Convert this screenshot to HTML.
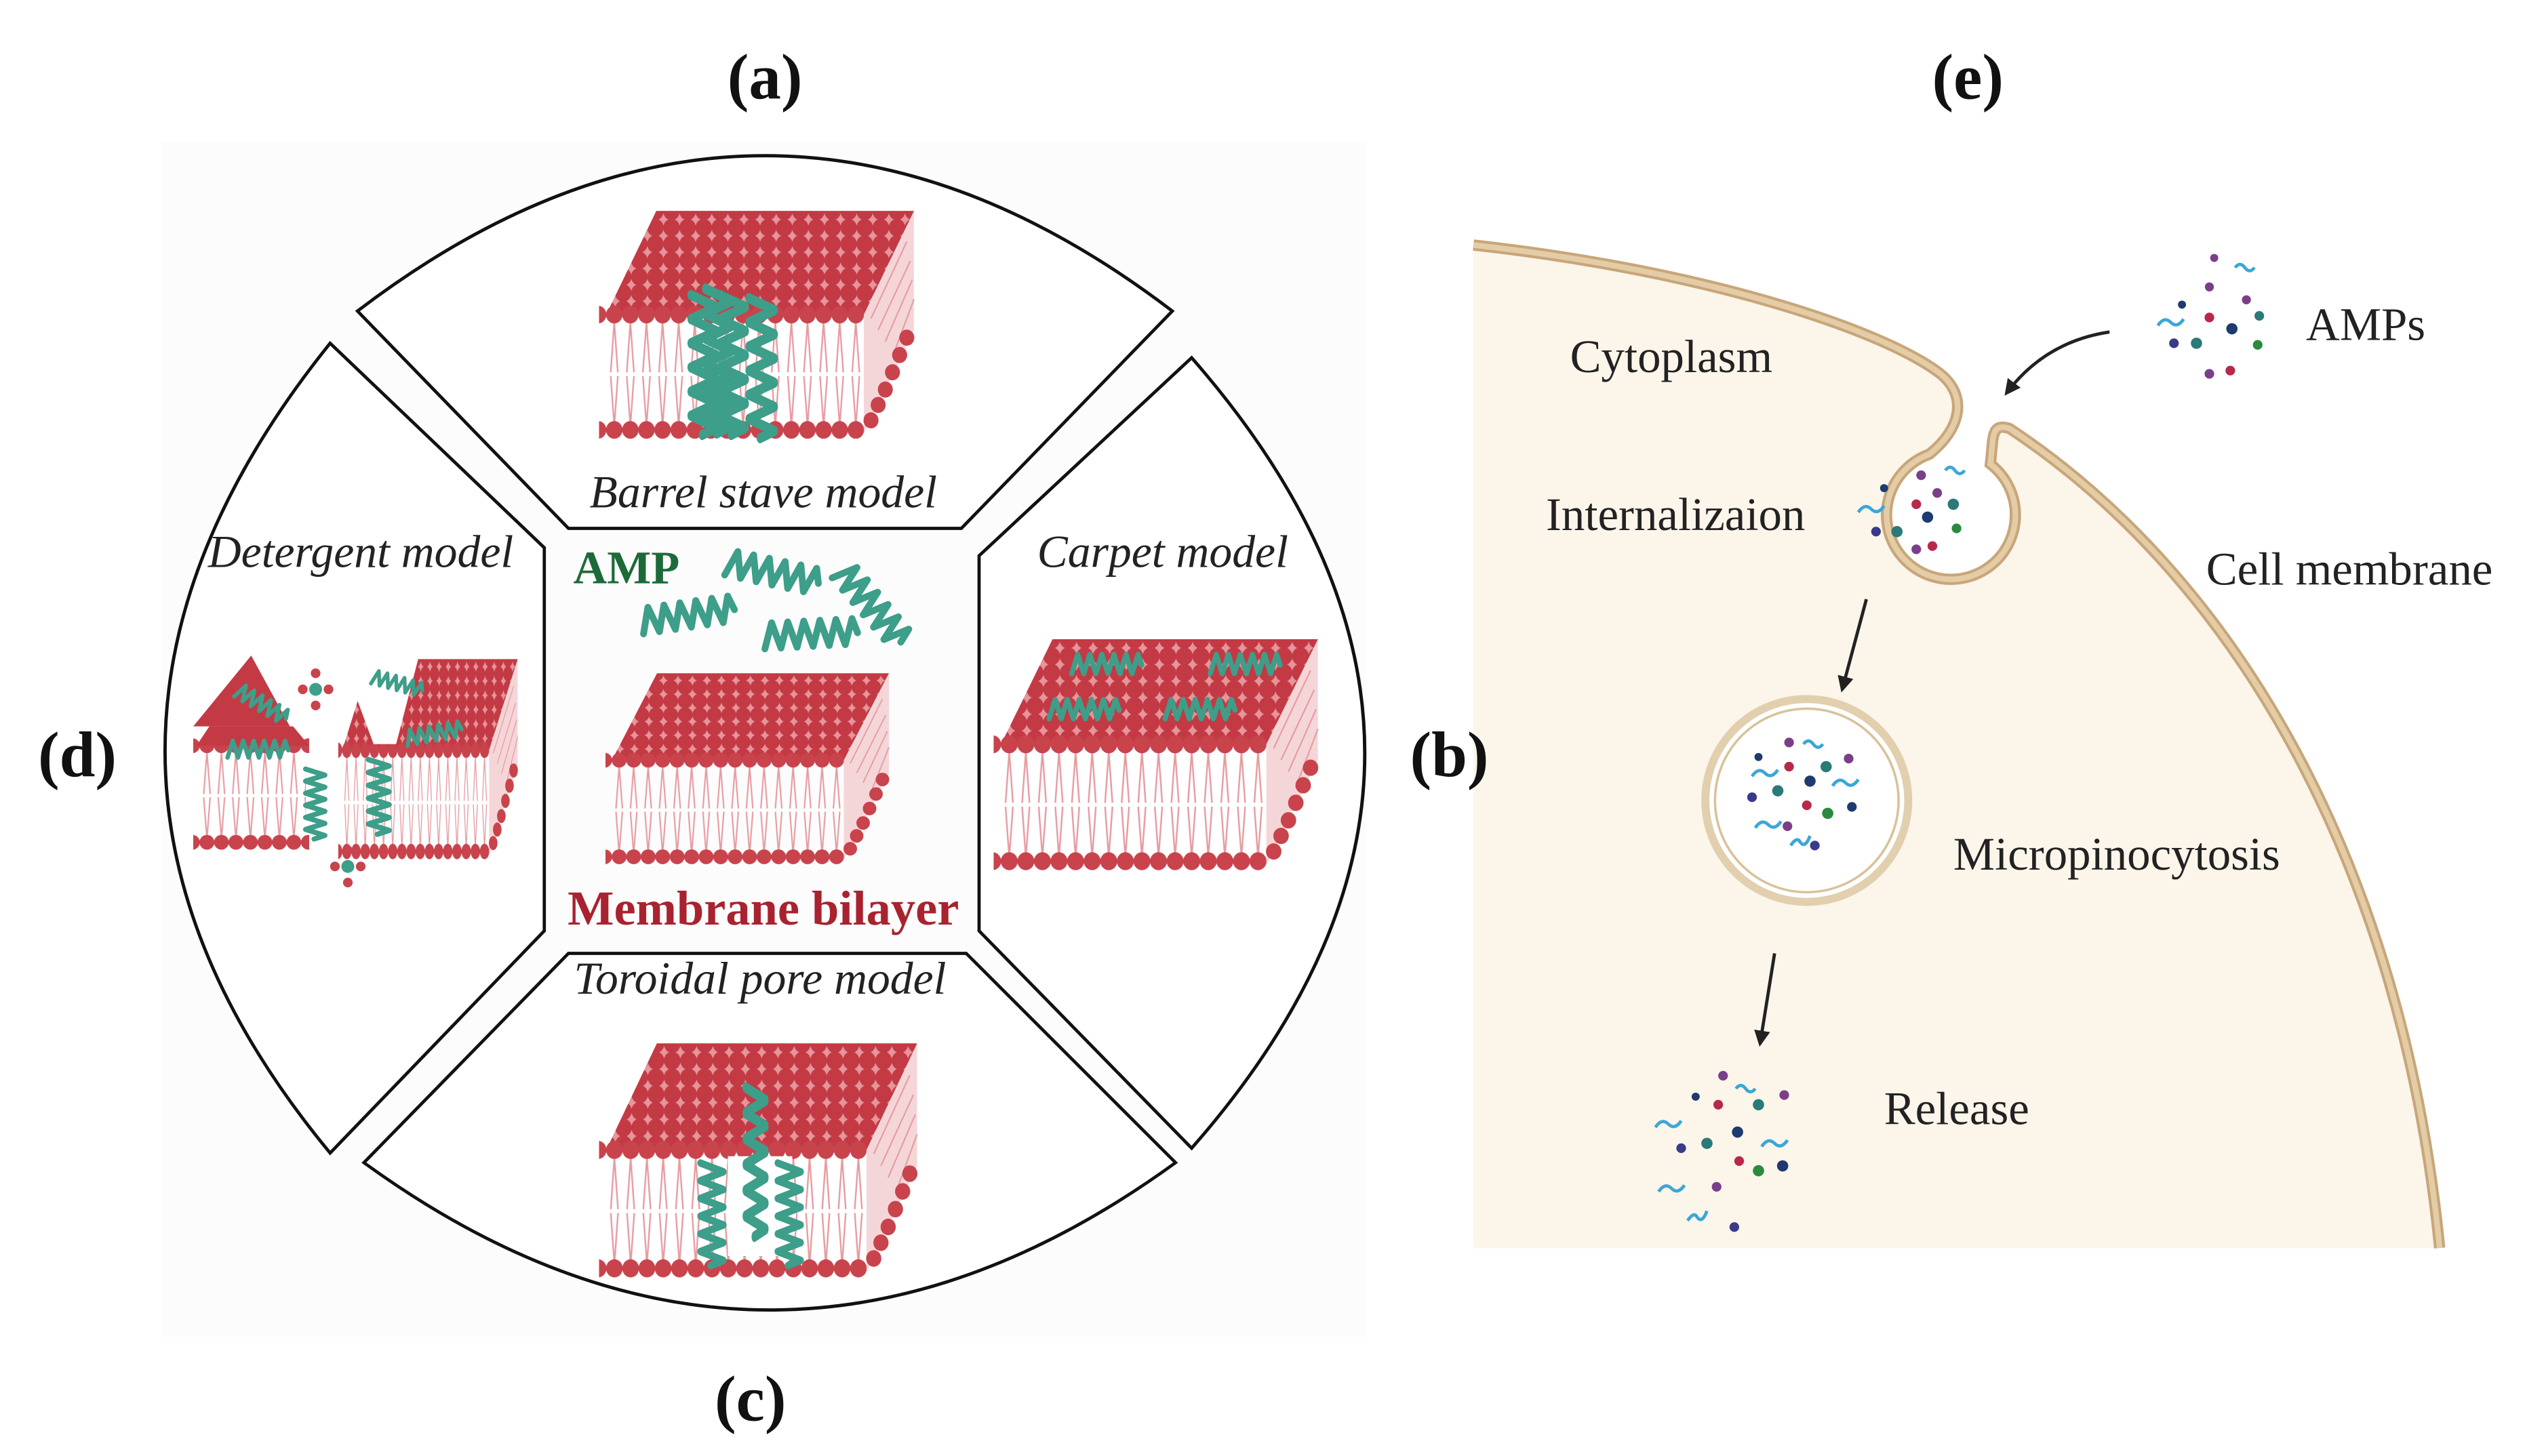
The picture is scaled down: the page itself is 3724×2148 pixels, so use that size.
<!DOCTYPE html>
<html><head><meta charset="utf-8"><style>html,body{margin:0;padding:0;background:#fff}svg{display:block}</style></head>
<body>
<svg width="3724" height="2148" viewBox="0 0 1568 904" xmlns="http://www.w3.org/2000/svg" font-family="'Liberation Serif', serif">
<defs>
<pattern id="topdots" patternUnits="userSpaceOnUse" width="9" height="8.5" x="0" y="0">
<rect width="9" height="8.5" fill="#e6959a"/>
<circle cx="4.5" cy="4.25" r="4.6" fill="#c33a44"/>
</pattern>
<pattern id="row" patternUnits="userSpaceOnUse" width="9" height="10" x="4" y="53">
<circle cx="4.5" cy="5" r="4.6" fill="#c9434c"/>
</pattern>
<pattern id="rowb" patternUnits="userSpaceOnUse" width="9" height="10" x="4" y="113">
<circle cx="4.5" cy="5" r="4.6" fill="#c9434c"/>
</pattern>
<pattern id="tails" patternUnits="userSpaceOnUse" width="9" height="62" x="4" y="58">
<path d="M4.5 4 L2.5 30 M4.5 4 L6.5 30 M2.5 32 L4.5 58 M6.5 32 L4.5 58" stroke="#e79ca2" stroke-width="0.9" fill="none"/>
</pattern>
<symbol id="blk" viewBox="0 0 180 124" preserveAspectRatio="none">
<polygon points="148,58 176,4 176,66 148,120" fill="#f5d6d8"/>
<path d="M152 60 L172 20 M156 66 L174 30 M160 72 L175 40 M164 80 L176 50" stroke="#e79ca2" stroke-width="0.8"/>
<g fill="#c9434c"><circle cx="172" cy="70" r="4.2"/><circle cx="168" cy="79" r="4.2"/><circle cx="164" cy="88" r="4.2"/><circle cx="160" cy="97" r="4.2"/><circle cx="156" cy="105" r="4.2"/><circle cx="152" cy="113" r="4.2"/></g>
<polygon points="32,4 176,4 148,58 4,58" fill="url(#topdots)"/>
<rect x="4" y="58" width="144" height="60" fill="url(#tails)"/>
<rect x="0" y="53" width="148" height="10" fill="url(#row)"/>
<rect x="0" y="113" width="148" height="10" fill="url(#rowb)"/>
</symbol>
<symbol id="hx" viewBox="0 0 62 22" overflow="visible">
<path d="M2 19 L7 3 L12 19 L17 3 L22 19 L27 3 L32 19 L37 3 L42 19 L47 3 L52 19 L57 3 L60 12" fill="none" stroke="#3d9e8a" stroke-width="4.2" stroke-linejoin="round" stroke-linecap="round"/>
</symbol>
<marker id="ar" viewBox="0 0 10 10" refX="8" refY="5" markerWidth="5" markerHeight="5" orient="auto"><path d="M0 0 L10 5 L0 10 z" fill="#222"/></marker>
</defs>

<rect x="100" y="88" width="748" height="742" fill="#fcfcfc"/>

<!-- segments -->
<g fill="#fff" stroke="#111" stroke-width="2">
<path d="M222 193 Q475 0 728 193 L597 328 L353 328 Z"/>
<path d="M353 592 L600 592 L730 722 Q478 905 226 722 Z"/>
<path d="M205 213 L338 340 L338 578 L205 716 Q0 468 205 213 Z"/>
<path d="M740 222 L608 345 L608 578 L740 713 Q955 468 740 222 Z"/>
</g>

<g font-style="italic" font-size="28.5" fill="#222" text-anchor="middle">
<text x="474" y="315">Barrel stave model</text>
<text x="224" y="352">Detergent model</text>
<text x="722" y="352">Carpet model</text>
<text x="472" y="617">Toroidal pore model</text>
</g>
<text x="356" y="362" font-size="29" font-weight="bold" fill="#1d6a39">AMP</text>
<text x="474" y="574" font-size="30.5" font-weight="bold" fill="#a8232f" text-anchor="middle">Membrane bilayer</text>

<!-- central -->
<use href="#hx" width="62" height="22" transform="translate(452,338) rotate(12)"/>
<use href="#hx" width="62" height="22" transform="translate(395,375) rotate(-8)"/>
<use href="#hx" width="62" height="22" transform="translate(472,384) rotate(-3)"/>
<use href="#hx" width="62" height="22" transform="translate(530,345) rotate(50)"/>
<use href="#blk" x="376" y="414" width="180" height="124"/>

<!-- barrel -->
<use href="#blk" x="372" y="126" width="200" height="148"/>
<g>
<use href="#hx" width="62" height="22" transform="translate(448,180) rotate(90) scale(1.5,1)"/>
<use href="#hx" width="62" height="22" transform="translate(466,180) rotate(90) scale(1.5,1)"/>
<use href="#hx" width="62" height="22" transform="translate(484,182) rotate(90) scale(1.5,1)"/>
<use href="#hx" width="62" height="22" transform="translate(457,176) rotate(90) scale(1.55,1)"/>
</g>

<!-- carpet -->
<use href="#blk" x="617" y="392" width="206" height="150"/>
<use href="#hx" width="62" height="22" transform="translate(664,404) scale(0.75)"/>
<use href="#hx" width="62" height="22" transform="translate(750,404) scale(0.75)"/>
<use href="#hx" width="62" height="22" transform="translate(650,432) scale(0.75)"/>
<use href="#hx" width="62" height="22" transform="translate(722,432) scale(0.75)"/>

<!-- toroidal -->
<use href="#blk" x="372" y="643" width="202" height="152"/>
<rect x="452" y="718" width="40" height="62" fill="#fff"/>
<use href="#hx" width="62" height="22" transform="translate(452,720) rotate(90) scale(1.1,0.9)"/>
<use href="#hx" width="62" height="22" transform="translate(500,720) rotate(90) scale(1.1,0.9)"/>
<use href="#hx" width="62" height="22" transform="translate(478,672) rotate(90) scale(1.6,0.8)"/>

<!-- detergent -->
<svg x="120" y="405" width="90" height="132" viewBox="0 0 90 132" overflow="visible">
<polygon points="36,2 60,46 0,46" fill="#c33a44"/>
<rect x="4" y="58" width="66" height="62" fill="url(#tails)"/>
<rect x="0" y="53" width="72" height="10" fill="url(#row)"/>
<rect x="0" y="113" width="72" height="10" fill="url(#rowb)"/>
<polygon points="10,46 62,46 72,58 2,58" fill="#c33a44"/>
</svg>
<use href="#blk" x="210" y="405" width="114" height="130"/>
<polygon points="212,408 260,408 246,462 232,462" fill="#fff"/>
<use href="#hx" width="62" height="22" transform="translate(150,422) rotate(30) scale(0.6)"/>
<use href="#hx" width="62" height="22" transform="translate(140,458) scale(0.65)"/>
<use href="#hx" width="62" height="22" transform="translate(232,414) rotate(15) scale(0.55)"/>
<use href="#hx" width="62" height="22" transform="translate(250,452) rotate(-10) scale(0.6)"/>
<use href="#hx" width="62" height="22" transform="translate(204,476) rotate(90) scale(0.75)"/>
<use href="#hx" width="62" height="22" transform="translate(244,470) rotate(90) scale(0.8)"/>
<g fill="#c9434c"><circle cx="196" cy="418" r="3"/><circle cx="188" cy="428" r="3"/><circle cx="204" cy="428" r="3"/><circle cx="196" cy="438" r="3"/><circle cx="216" cy="528" r="3"/><circle cx="208" cy="538" r="3"/><circle cx="224" cy="538" r="3"/><circle cx="216" cy="548" r="3"/></g>
<g fill="#3d9e8a"><circle cx="196" cy="428" r="4"/><circle cx="216" cy="538" r="4"/></g>

<!-- cell -->
<path d="M915 152 C1060 168 1170 205 1205 232 C1222 246 1218 266 1198 282 A40 40 0 1 0 1236 288 C1238 272 1236 262 1248 266 C1390 360 1492 540 1515 775 L915 775 Z" fill="#fbf5ea"/>
<path d="M915 152 C1060 168 1170 205 1205 232 C1222 246 1218 266 1198 282 A40 40 0 1 0 1236 288 C1238 272 1236 262 1248 266 C1390 360 1492 540 1515 775" fill="none" stroke="#c8a67a" stroke-width="7"/>
<path d="M915 152 C1060 168 1170 205 1205 232 C1222 246 1218 266 1198 282 A40 40 0 1 0 1236 288 C1238 272 1236 262 1248 266 C1390 360 1492 540 1515 775" fill="none" stroke="#e4cda6" stroke-width="3.5"/>
<circle cx="1122" cy="497" r="63" fill="#fff" stroke="#e2cfae" stroke-width="5"/>
<circle cx="1122" cy="497" r="57" fill="#fff" stroke="#d9c29a" stroke-width="1.5"/>

<g font-size="29" fill="#222">
<text x="975" y="231">Cytoplasm</text>
<text x="1432" y="211">AMPs</text>
<text x="960" y="329">Internalizaion</text>
<text x="1370" y="363">Cell membrane</text>
<text x="1213" y="540">Micropinocytosis</text>
<text x="1170" y="698">Release</text>
</g>

<g stroke="#222" stroke-width="2" fill="none" marker-end="url(#ar)">
<path d="M1310 206 Q1270 212 1246 244"/>
<path d="M1159 372 L1144 428"/>
<path d="M1102 592 L1093 648"/>
</g>

<!-- particles -->
<g>
<circle cx="1355" cy="189" r="2.5" fill="#1e3a6e"/><circle cx="1372" cy="178" r="2.8" fill="#7b3f8a"/><circle cx="1395" cy="186" r="2.8" fill="#7b3f8a"/>
<circle cx="1372" cy="197" r="3" fill="#b8284a"/><circle cx="1386" cy="204" r="3.5" fill="#1e3a6e"/><circle cx="1403" cy="196" r="3" fill="#2a7a78"/>
<circle cx="1350" cy="213" r="3" fill="#3a3a8a"/><circle cx="1364" cy="213" r="3.5" fill="#2a7a78"/><circle cx="1402" cy="214" r="3" fill="#2a8a3e"/>
<circle cx="1372" cy="232" r="3" fill="#7b3f8a"/><circle cx="1385" cy="230" r="3" fill="#b8284a"/><circle cx="1375" cy="160" r="2.5" fill="#7b3f8a"/>
<path d="M1340 202 q4 -6 8 -2 q4 4 8 -2" stroke="#3aa7d8" stroke-width="2" fill="none"/><path d="M1388 166 q3 -4 6 0 q3 4 6 0" stroke="#3aa7d8" stroke-width="2" fill="none"/>
</g>
<g>
<circle cx="1170" cy="303" r="2.5" fill="#1e3a6e"/><circle cx="1193" cy="295" r="3" fill="#7b3f8a"/><circle cx="1203" cy="306" r="3" fill="#7b3f8a"/>
<circle cx="1190" cy="313" r="3" fill="#b8284a"/><circle cx="1213" cy="313" r="3.5" fill="#2a7a78"/><circle cx="1165" cy="330" r="3" fill="#3a3a8a"/>
<circle cx="1178" cy="330" r="3.5" fill="#2a7a78"/><circle cx="1197" cy="321" r="3.5" fill="#1e3a6e"/><circle cx="1215" cy="328" r="3" fill="#2a8a3e"/>
<circle cx="1190" cy="341" r="3" fill="#7b3f8a"/><circle cx="1200" cy="339" r="3" fill="#b8284a"/>
<path d="M1154 318 q4 -6 8 -2 q4 4 8 -2" stroke="#3aa7d8" stroke-width="2" fill="none"/><path d="M1208 292 q3 -4 6 0 q3 4 6 0" stroke="#3aa7d8" stroke-width="2" fill="none"/>
</g>
<g>
<circle cx="1092" cy="470" r="2.5" fill="#1e3a6e"/><circle cx="1111" cy="461" r="3" fill="#7b3f8a"/><circle cx="1148" cy="471" r="3" fill="#7b3f8a"/>
<circle cx="1111" cy="476" r="3" fill="#b8284a"/><circle cx="1134" cy="476" r="3.5" fill="#2a7a78"/><circle cx="1124" cy="485" r="3.5" fill="#1e3a6e"/>
<circle cx="1088" cy="495" r="3" fill="#3a3a8a"/><circle cx="1104" cy="491" r="3.5" fill="#2a7a78"/><circle cx="1122" cy="500" r="3" fill="#b8284a"/>
<circle cx="1135" cy="505" r="3.5" fill="#2a8a3e"/><circle cx="1150" cy="501" r="3" fill="#1e3a6e"/><circle cx="1110" cy="513" r="3" fill="#7b3f8a"/><circle cx="1127" cy="525" r="3" fill="#3a3a8a"/>
<path d="M1088 482 q4 -6 8 -2 q4 4 8 -2" stroke="#3aa7d8" stroke-width="2" fill="none"/><path d="M1138 488 q4 -6 8 -2 q4 4 8 -2" stroke="#3aa7d8" stroke-width="2" fill="none"/>
<path d="M1090 514 q4 -6 8 -2 q4 4 8 -2" stroke="#3aa7d8" stroke-width="2" fill="none"/><path d="M1112 525 q4 -6 6 -2 q3 4 6 -4" stroke="#3aa7d8" stroke-width="2" fill="none"/>
<path d="M1120 462 q3 -4 6 0 q3 4 6 0" stroke="#3aa7d8" stroke-width="2" fill="none"/>
</g>
<g>
<circle cx="1053" cy="681" r="2.5" fill="#1e3a6e"/><circle cx="1070" cy="668" r="3" fill="#7b3f8a"/><circle cx="1108" cy="680" r="3" fill="#7b3f8a"/>
<circle cx="1067" cy="686" r="3" fill="#b8284a"/><circle cx="1092" cy="686" r="3.5" fill="#2a7a78"/><circle cx="1079" cy="703" r="3.5" fill="#1e3a6e"/>
<circle cx="1044" cy="713" r="3" fill="#3a3a8a"/><circle cx="1060" cy="710" r="3.5" fill="#2a7a78"/><circle cx="1080" cy="721" r="3" fill="#b8284a"/>
<circle cx="1092" cy="727" r="3.5" fill="#2a8a3e"/><circle cx="1107" cy="724" r="3.5" fill="#1e3a6e"/><circle cx="1066" cy="737" r="3" fill="#7b3f8a"/><circle cx="1077" cy="762" r="3" fill="#3a3a8a"/>
<path d="M1028 700 q4 -6 8 -2 q4 4 8 -2" stroke="#3aa7d8" stroke-width="2" fill="none"/><path d="M1094 712 q4 -6 8 -2 q4 4 8 -2" stroke="#3aa7d8" stroke-width="2" fill="none"/>
<path d="M1030 740 q4 -6 8 -2 q4 4 8 -2" stroke="#3aa7d8" stroke-width="2" fill="none"/><path d="M1048 758 q4 -6 6 -2 q3 4 6 -4" stroke="#3aa7d8" stroke-width="2" fill="none"/>
<path d="M1078 676 q3 -4 6 0 q3 4 6 0" stroke="#3aa7d8" stroke-width="2" fill="none"/>
</g>

<!-- panel labels (on top) -->
<g font-weight="bold" font-size="40" fill="#111" text-anchor="middle">
<text x="475" y="61">(a)</text>
<text x="1222" y="61">(e)</text>
<text x="48" y="482">(d)</text>
<text x="900" y="482">(b)</text>
<text x="466" y="882">(c)</text>
</g>
</svg>
</body></html>
